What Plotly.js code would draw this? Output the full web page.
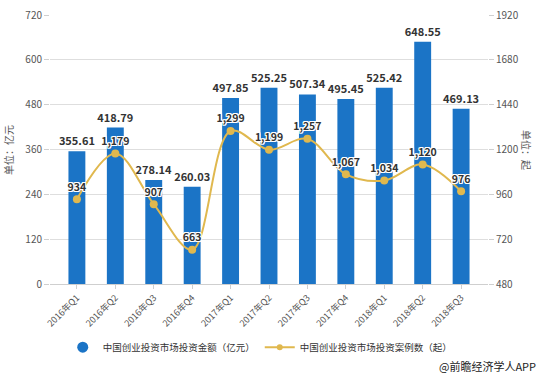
<!DOCTYPE html>
<html>
<head>
<meta charset="utf-8">
<script src="https://cdn.plot.ly/plotly-3.0.1.min.js"></script>
<style>html,body{margin:0;padding:0;background:#fff;}#chart{width:540px;height:375px;}</style>
</head>
<body>
<div id="chart"></div>
<script>
const categories = ["2016年Q1","2016年Q2","2016年Q3","2016年Q4","2017年Q1","2017年Q2","2017年Q3","2017年Q4","2018年Q1","2018年Q2","2018年Q3"];
const amounts = [355.61, 418.79, 278.14, 260.03, 497.85, 525.25, 507.34, 495.45, 525.42, 648.55, 469.13];
const cases = [934, 1179, 907, 663, 1299, 1199, 1257, 1067, 1034, 1120, 976];
const barName = "中国创业投资市场投资金额（亿元）";
const lineName = "中国创业投资市场投资案例数（起）";

const FONT = "'Noto Sans CJK SC', 'Noto Sans', sans-serif";
const BLUE = "#1b74c6";
const GOLD = "#e0b84e";
const halo = "1px 1px 0 #fff, -1px -1px 0 #fff, 1px -1px 0 #fff, -1px 1px 0 #fff, 0 1px 0 #fff, 0 -1px 0 #fff, 1px 0 0 #fff, -1px 0 0 #fff";

const traces = [
  {
    type: "bar", x: categories, y: amounts, name: barName, showlegend: false,
    marker: {color: BLUE},
    text: amounts.map(v => v.toFixed(2)), textposition: "outside", cliponaxis: false,
    constraintext: "none",
    textfont: {family: FONT, size: 11, color: "#333", weight: 700},
    hoverinfo: "x+y"
  },
  {
    type: "scatter", mode: "lines+markers+text", x: categories, y: cases, yaxis: "y2",
    name: lineName, showlegend: false,
    line: {color: GOLD, width: 2, shape: "spline", smoothing: 1},
    marker: {color: GOLD, size: 8},
    text: cases.map(v => v.toLocaleString("en-US")), textposition: "top center", cliponaxis: false,
    textfont: {family: FONT, size: 10.5, color: "#333", weight: 700, shadow: halo}
  },
  {
    type: "scatter", mode: "markers", x: [null], y: [null], name: barName,
    marker: {color: BLUE, size: 11, symbol: "circle"}, hoverinfo: "skip"
  },
  {
    type: "scatter", mode: "lines+markers", x: [null], y: [null], yaxis: "y2", name: lineName,
    line: {color: GOLD, width: 2}, marker: {color: GOLD, size: 6}, hoverinfo: "skip"
  }
];

const layout = {
  width: 540, height: 375,
  margin: {l: 50, r: 52, t: 15, b: 91},
  paper_bgcolor: "#fff", plot_bgcolor: "#fff",
  font: {family: FONT, size: 10, color: "#555"},
  bargap: 0.56,
  xaxis: {
    type: "category", tickangle: -45, tickfont: {size: 9, color: "#555"},
    showline: true, linecolor: "#cfcfcf", linewidth: 1,
    ticks: "outside", ticklen: 4, tickcolor: "#cfcfcf", showgrid: false
  },
  yaxis: {
    range: [0, 720], dtick: 120, tick0: 0, gridcolor: "#dedede", zeroline: false,
    tickfont: {size: 10, color: "#555"}, ticks: "outside", ticklen: 5, tickcolor: "#cfcfcf"
  },
  yaxis2: {
    overlaying: "y", side: "right", range: [480, 1920], dtick: 240, tick0: 480,
    showgrid: false, zeroline: false,
    tickfont: {size: 10, color: "#555"}, ticks: "outside", ticklen: 5, tickcolor: "#cfcfcf"
  },
  legend: {
    orientation: "h", x: 0.48, xanchor: "center", y: -0.235, yanchor: "middle",
    font: {size: 9.5, color: "#333"}, itemwidth: 30
  },
  annotations: [
    {text: "单位：亿元", xref: "paper", yref: "paper", x: -0.095, y: 0.5, textangle: -90,
     showarrow: false, font: {size: 10, color: "#555"}, xanchor: "center", yanchor: "middle"},
    {text: "单位：起", xref: "paper", yref: "paper", x: 1.088, y: 0.5, textangle: 90,
     showarrow: false, font: {size: 10, color: "#555"}, xanchor: "center", yanchor: "middle"},
    {text: "@前瞻经济学人APP", xref: "paper", yref: "paper", x: 1.115, y: -0.305,
     xanchor: "right", yanchor: "middle", showarrow: false, font: {size: 11, color: "#222"}}
  ]
};

Plotly.newPlot("chart", traces, layout, {displayModeBar: false, staticPlot: true});
</script>
</body>
</html>
